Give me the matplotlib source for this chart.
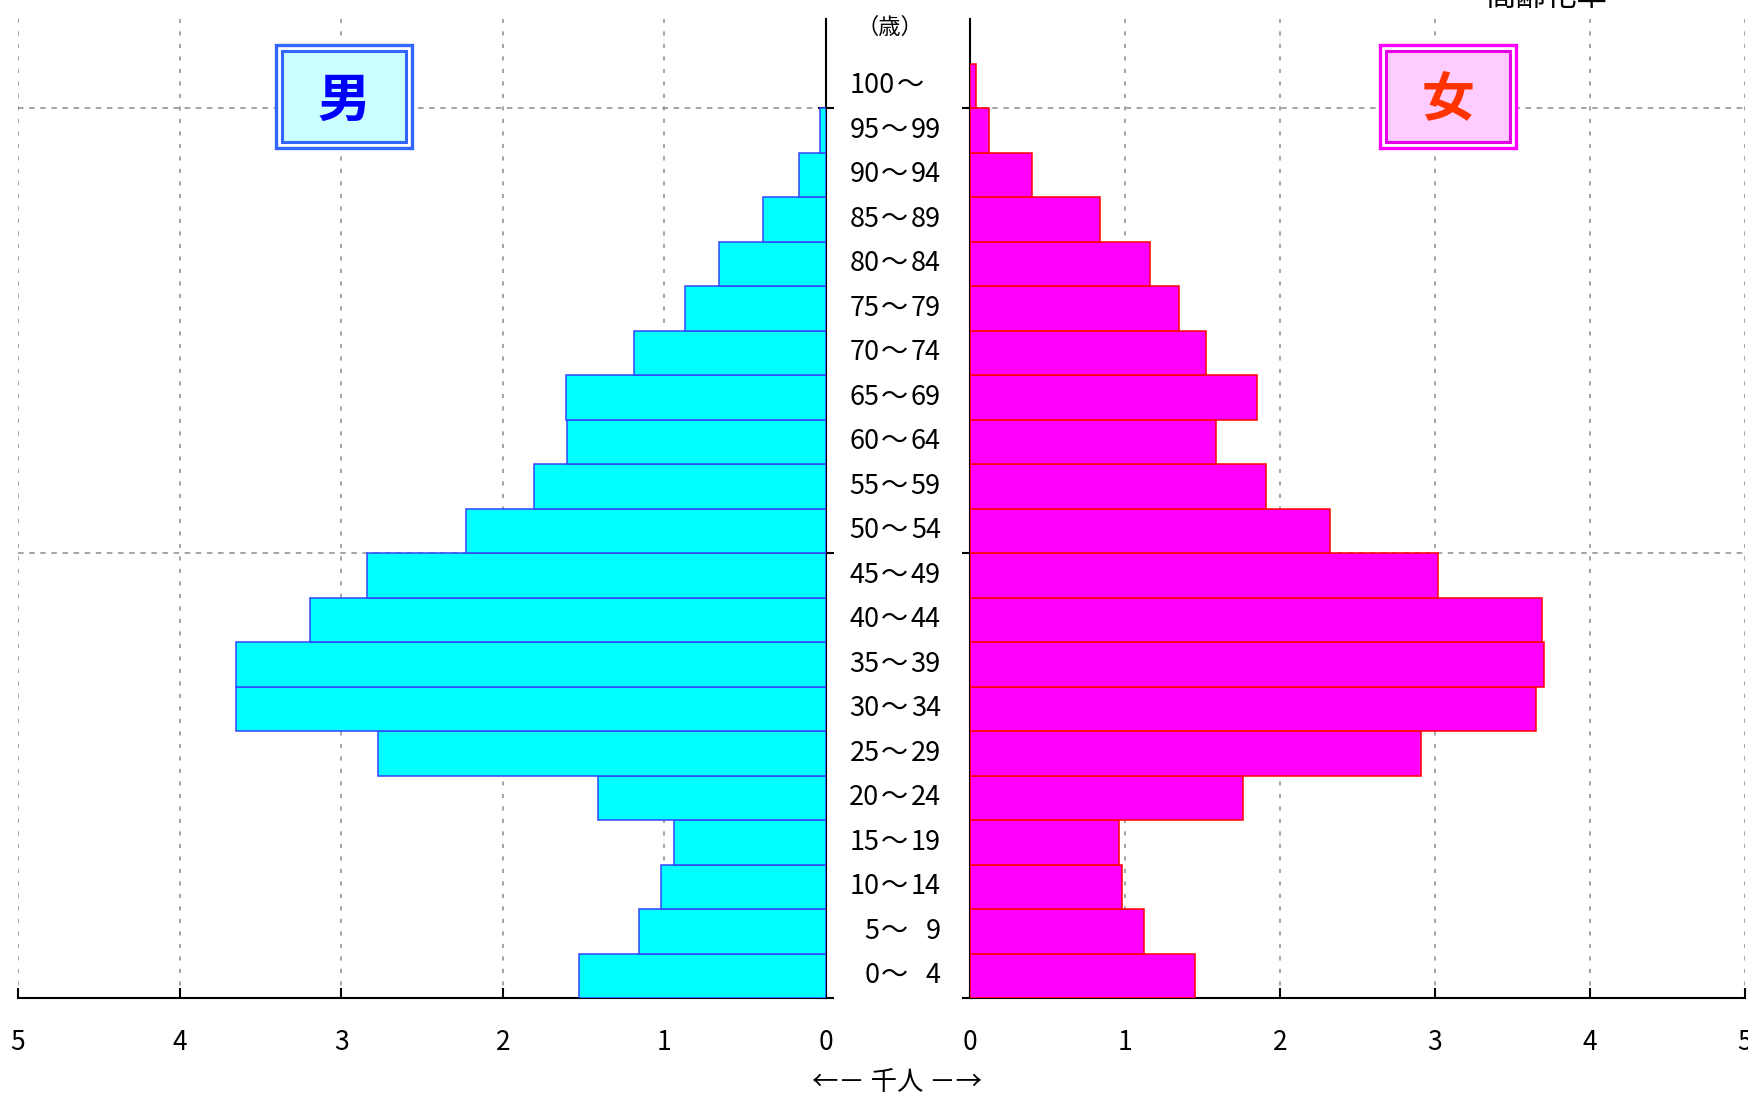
import matplotlib
matplotlib.use("Agg")
import matplotlib.pyplot as plt
from matplotlib.patches import Rectangle
from matplotlib.transforms import blended_transform_factory

plt.rcParams['font.family'] = ['Noto Sans CJK JP', 'DejaVu Sans']
plt.rcParams['lines.scale_dashes'] = False

# Age groups (bottom to top), lower and upper bound of each 5-year band
age_lo = ['0', '5', '10', '15', '20', '25', '30', '35', '40', '45', '50',
          '55', '60', '65', '70', '75', '80', '85', '90', '95', '100']
age_hi = ['4', '9', '14', '19', '24', '29', '34', '39', '44', '49', '54',
          '59', '64', '69', '74', '79', '84', '89', '94', '99', '']

# Population in thousands
male = [1.53, 1.16, 1.02, 0.94, 1.41, 2.77, 3.65, 3.65, 3.19, 2.84, 2.23,
        1.81, 1.60, 1.61, 1.19, 0.87, 0.66, 0.39, 0.17, 0.04, 0.0]
female = [1.45, 1.12, 0.98, 0.96, 1.76, 2.91, 3.65, 3.70, 3.69, 3.02, 2.32,
          1.91, 1.59, 1.85, 1.52, 1.35, 1.16, 0.84, 0.40, 0.12, 0.04]

x_ticks = [0, 1, 2, 3, 4, 5]
x_ticklabels = ['0', '1', '2', '3', '4', '5']

W, H = 1748, 1094
fig = plt.figure(figsize=(W / 100, H / 100), dpi=100)


def fx(x):
    return x / W


def fy(y):
    return 1 - y / H


axL = fig.add_axes([fx(18), fy(998), (826 - 18) / W, (998 - 19) / H])
axR = fig.add_axes([fx(970), fy(998), (1745 - 970) / W, (998 - 19) / H])

ypos = [i + 0.5 for i in range(len(age_lo))]


def edge_widths(values):
    # no outline for empty bands
    return [1.1 if v > 0 else 0.0 for v in values]


axL.barh(ypos, male, height=1.0, color='#00ffff', edgecolor='#3344ff',
         linewidth=edge_widths(male), zorder=3)
axR.barh(ypos, female, height=1.0, color='#ff00ff', edgecolor='#ff0000',
         linewidth=edge_widths(female), zorder=3)

for ax, side in ((axL, 'right'), (axR, 'left')):
    ax.set_ylim(0, 22)
    ax.set_xticks(x_ticks)
    ax.set_xticklabels(x_ticklabels)
    ax.set_yticks([0, 10, 20])
    ax.set_yticklabels([])
    ax.xaxis.grid(True, linestyle=(0, (3, 6)), color='#8c8c8c', linewidth=1.1)
    ax.yaxis.grid(True, linestyle=(0, (4, 4)), color='#8c8c8c', linewidth=1.1)
    ax.set_axisbelow(True)
    for s in ax.spines:
        ax.spines[s].set_visible(False)
    ax.spines['bottom'].set_visible(True)
    ax.spines[side].set_visible(True)
    ax.spines['bottom'].set_linewidth(1.5)
    ax.spines[side].set_linewidth(1.5)
    ax.tick_params(axis='x', direction='in', length=7, width=1.5,
                   labelsize=19, pad=22)
    ax.tick_params(axis='y', direction='inout', length=12, width=1.5,
                   left=(side == 'left'), right=(side == 'right'),
                   labelleft=False, labelright=False)
    ax.set_facecolor('none')

axL.set_xlim(5, 0)
axR.set_xlim(0, 5)

# Age labels in the centre column, laid out on a fixed character grid
tr = blended_transform_factory(fig.transFigure, axL.transData)
x0, u = 849, 15.3
for y, lo, hi in zip(ypos, age_lo, age_hi):
    if hi:
        fig.text(fx(x0 + 2 * u), y, lo, transform=tr, ha='right', va='center',
                 fontsize=19.5)
        fig.text(fx(x0 + 3 * u), y, '～', transform=tr, ha='center',
                 va='center', fontsize=19.5)
        fig.text(fx(x0 + 6 * u), y, hi, transform=tr, ha='right', va='center',
                 fontsize=19.5)
    else:
        fig.text(fx(x0 + 3 * u), y, lo, transform=tr, ha='right', va='center',
                 fontsize=19.5)
        fig.text(fx(x0 + 4 * u), y, '～', transform=tr, ha='center',
                 va='center', fontsize=19.5)

fig.text(fx(890), fy(27), '（歳）', ha='center', va='center', fontsize=16)
fig.text(fx(897), fy(1083), '←－ 千人 －→', ha='center', va='center',
         fontsize=19)
fig.text(fx(1485), fy(6), '高齢化率', ha='left', va='baseline', fontsize=22)


def framed_box(x0, y0, x1, y1, edge, inner_edge, face):
    fig.add_artist(Rectangle((fx(x0), fy(y1)), (x1 - x0) / W, (y1 - y0) / H,
                             transform=fig.transFigure, facecolor='white',
                             edgecolor=edge, linewidth=2.4, zorder=5))
    fig.add_artist(Rectangle((fx(x0 + 6), fy(y1 - 6)), (x1 - x0 - 12) / W,
                             (y1 - y0 - 12) / H, transform=fig.transFigure,
                             facecolor=face, edgecolor=inner_edge,
                             linewidth=2.2, zorder=6))


framed_box(276, 45, 412, 148, '#3366ff', '#3366ff', '#ccffff')
fig.text(fx(344), fy(101), '男', ha='center', va='center', fontsize=38,
         fontweight='bold', color='#0000ff', zorder=7)

framed_box(1380, 45, 1516, 148, '#ff00ff', '#e600e6', '#ffccff')
fig.text(fx(1448), fy(101), '女', ha='center', va='center', fontsize=38,
         fontweight='bold', color='#ff3300', zorder=7)

fig.savefig('out.png', dpi=100)
